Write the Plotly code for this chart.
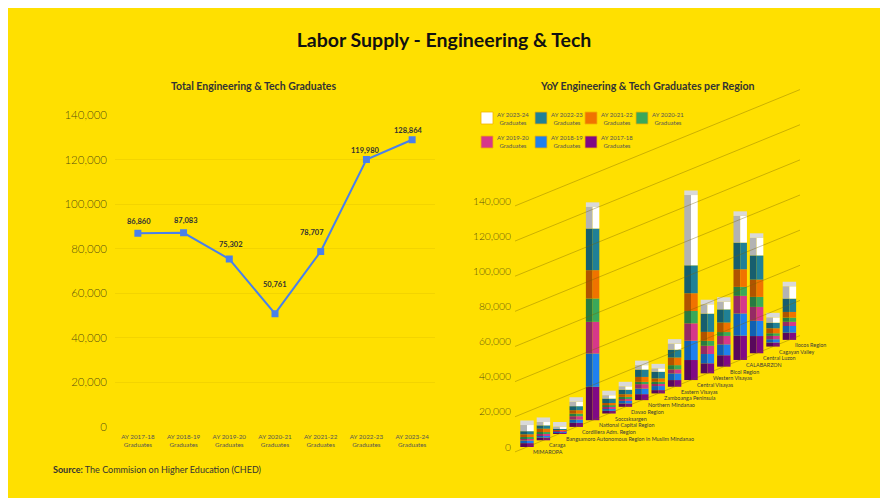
import plotly.graph_objects as go

# ---------------- data ----------------
years = ["AY 2017-18", "AY 2018-19", "AY 2019-20", "AY 2020-21",
         "AY 2021-22", "AY 2022-23", "AY 2023-24"]
total_graduates = [86860, 87083, 75302, 50761, 78707, 119980, 128864]

regions = ["MIMAROPA", "Caraga", "Bangsamoro Autonomous Region in Muslim Mindanao",
           "Cordillera Adm. Region", "National Capital Region", "Soccsksargen",
           "Davao Region", "Northern Mindanao", "Zamboanga Peninsula", "Eastern Visayas",
           "Central Visayas", "Western Visayas", "Bicol Region", "CALABARZON",
           "Central Luzon", "Cagayan Valley", "Ilocos Region"]

ay_2017_18 = [2200, 1500, 500, 2300, 19000, 1500, 1900, 3400, 1900, 3800, 11400, 5700, 6500, 13800, 9800, 2300, 4100]
ay_2018_19 = [1500, 1300, 600, 1900, 19000, 1300, 1500, 3200, 2300, 3800, 11000, 5300, 6200, 12700, 8700, 1900, 3800]
ay_2019_20 = [1200, 950, 500, 1900, 18000, 950, 1300, 2500, 1500, 2300, 9900, 4700, 4800, 10000, 7900, 1900, 2400]
ay_2020_21 = [800, 950, 300, 1500, 13300, 950, 950, 1300, 950, 2400, 7000, 2800, 2200, 5100, 5700, 1500, 2400]
ay_2021_22 = [1500, 1900, 500, 1900, 16100, 1300, 1500, 2800, 1900, 4300, 10100, 5100, 5400, 10000, 9800, 2800, 3200]
ay_2022_23 = [1800, 1900, 600, 2300, 23700, 2500, 2600, 4200, 3800, 4500, 15900, 10400, 7500, 15200, 13800, 3200, 7600]
ay_2023_24 = [3500, 1900, 1000, 2500, 12300, 1900, 1900, 2500, 1900, 3400, 40000, 5300, 4300, 15200, 10000, 3000, 7000]

tick_values = [0, 20000, 40000, 60000, 80000, 100000, 120000, 140000]

# ---------------- style ----------------
W, H = 888, 504
OFF = 8                 # page body margin
FONT = "Lato"
YELLOW = "#FFE000"
def fx(p):
    return (p - OFF) / W
def fy(p):
    return 1 - (p - OFF) / H

series = [  # (label, values, front colour, side colour)
    ("AY 2017-18<br>Graduates", ay_2017_18, "#800a85", "#58085b"),
    ("AY 2018-19<br>Graduates", ay_2018_19, "#1f80ee", "#1160b2"),
    ("AY 2019-20<br>Graduates", ay_2019_20, "#d6388a", "#952a64"),
    ("AY 2020-21<br>Graduates", ay_2020_21, "#3aa85a", "#287a42"),
    ("AY 2021-22<br>Graduates", ay_2021_22, "#f07300", "#b05400"),
    ("AY 2022-23<br>Graduates", ay_2022_23, "#208096", "#175e6e"),
    ("AY 2023-24<br>Graduates", ay_2023_24, "#ffffff", "#b3b3b3"),
]
# legend swatch centres (page px) for each series, bottom segment first
legend_pos = [(591, 142), (541, 142), (487, 142),
              (642, 118), (591, 118), (541, 118), (487, 118)]
swatch = 12

depth_rise = 3810      # oblique projection: rise of the floor per region (y units)
face_w = 0.41          # width of one bar face (x units)
cap_h = 2600           # visual height of the top face

label_dy = [12, 12, 15, 29, 19, 9, 9]
label_dx = [1, 2, 2, 0, -9, -1, -4]

fig = go.Figure()

# ---------------- left: line chart ----------------
fig.add_trace(go.Scatter(
    x=years, y=total_graduates, mode="lines+markers",
    line=dict(color="#4a80ea", width=2),
    marker=dict(symbol="square", size=7, color="#4a80ea"),
    xaxis="x", yaxis="y", showlegend=False, hoverinfo="x+y"))

for i, (yr, v) in enumerate(zip(years, total_graduates)):
    fig.add_annotation(x=yr, y=v, xref="x", yref="y", text=f"<b>{v:,}</b>",
                       showarrow=False, yshift=label_dy[i], xshift=label_dx[i],
                       font=dict(family=FONT, size=7.5, color="#333333"))

# ---------------- right: oblique 3D-like stacked bars ----------------
n = len(regions)
idx = list(range(n))
floor = [depth_rise * i for i in idx]

# slanted back-wall grid lines
x_left, x_right = -0.732, 16.646
for v in tick_values:
    fig.add_trace(go.Scatter(
        x=[x_left, x_right], y=[v + depth_rise * x_left, v + depth_rise * x_right],
        mode="lines", line=dict(color="rgba(120,100,0,0.38)", width=1),
        xaxis="x2", yaxis="y2", showlegend=False, hoverinfo="skip"))

cum = floor[:]
for k, (name, vals, front, side) in enumerate(series):
    base = cum[:]
    fig.add_trace(go.Bar(
        x=idx, y=vals, base=base, offset=-face_w, width=face_w,
        marker=dict(color=side, line=dict(width=0)),
        xaxis="x2", yaxis="y2", showlegend=False, hoverinfo="skip"))
    fig.add_trace(go.Bar(
        x=idx, y=vals, base=base, offset=0, width=face_w, name=name.replace("<br>", " "),
        marker=dict(color=front, line=dict(width=0)),
        xaxis="x2", yaxis="y2", showlegend=False,
        customdata=regions, hovertemplate="%{customdata}: %{y:,}<extra>%{fullData.name}</extra>"))
    cum = [c + v for c, v in zip(cum, vals)]
    # legend entry
    px, py = legend_pos[k]
    fig.add_shape(type="rect", xref="paper", yref="paper",
                  x0=fx(px - swatch / 2), x1=fx(px + swatch / 2),
                  y0=fy(py + swatch / 2), y1=fy(py - swatch / 2),
                  fillcolor=front, line=dict(color="#f2b400", width=0.8))
    fig.add_annotation(x=fx(px + swatch / 2 + 2), y=fy(py), xref="paper", yref="paper",
                       xanchor="left", yanchor="middle", align="center", text=name,
                       showarrow=False, font=dict(family=FONT, size=6, color="#555555"))

# top faces
fig.add_trace(go.Bar(
    x=idx, y=[cap_h] * n, base=cum, offset=-face_w, width=2 * face_w,
    marker=dict(color="#d9d9d9", line=dict(width=0)),
    xaxis="x2", yaxis="y2", showlegend=False, hoverinfo="skip"))

for i, r in enumerate(regions):
    fig.add_annotation(x=i, y=floor[i], xref="x2", yref="y2", text=r,
                       showarrow=False, xanchor="left", yanchor="middle",
                       xshift=4, yshift=-5,
                       font=dict(family=FONT, size=5.4, color="#3a3a3a"))

# ---------------- texts ----------------
fig.add_annotation(x=fx(253), y=fy(78), xref="paper", yref="paper", xanchor="center",
                   text="<b>Total Engineering & Tech Graduates</b>", showarrow=False,
                   font=dict(family=FONT, size=10.5, color="#333333"))
fig.add_annotation(x=fx(647), y=fy(78), xref="paper", yref="paper", xanchor="center",
                   text="<b>YoY Engineering & Tech Graduates per Region</b>", showarrow=False,
                   font=dict(family=FONT, size=10.6, color="#333333"))
fig.add_annotation(x=fx(51), y=fy(477), xref="paper", yref="paper", xanchor="left",
                   text="<b>Source:</b> The Commision on Higher Education (CHED)",
                   showarrow=False, font=dict(family=FONT, size=9, color="#333333"))

fig.add_shape(type="rect", xref="paper", yref="paper", layer="below",
              x0=fx(7), x1=fx(882), y0=fy(498), y1=fy(7),
              fillcolor=YELLOW, line=dict(width=0))

tick_color = "rgba(40,38,20,0.8)"

fig.update_layout(
    width=W, height=H,
    margin=dict(l=0, r=0, t=0, b=0, autoexpand=False),
    paper_bgcolor="white", plot_bgcolor="rgba(0,0,0,0)",
    font=dict(family=FONT, color="#333333"),
    barmode="overlay", showlegend=False,
    title=dict(text="<b>Labor Supply - Engineering & Tech</b>", x=fx(444), xanchor="center",
               y=fy(40), yanchor="middle", font=dict(family=FONT, size=19.5, color="#111111")),
    xaxis=dict(domain=[fx(115), fx(435)], range=[-0.5, 6.5], type="category",
               tickvals=years, ticktext=[y + "<br>Graduates" for y in years],
               tickfont=dict(family=FONT, size=6.3, color="#555555"),
               showgrid=False, zeroline=False, showline=False, ticks="",
               ticklabelstandoff=5, anchor="y"),
    yaxis=dict(domain=[fy(426.7), fy(115)], range=[0, 140000],
               tickvals=tick_values, tickformat=",",
               tickfont=dict(family=FONT, size=11.5, color=tick_color, weight=300),
               showgrid=True, gridcolor="rgba(190,160,0,0.18)", gridwidth=1,
               zeroline=False, showline=False, ticks="", ticklabelstandoff=7, anchor="x"),
    xaxis2=dict(domain=[fx(515), fx(800)], range=[x_left, x_right],
                showticklabels=False, showgrid=False, zeroline=False, showline=False,
                ticks="", anchor="y2"),
    yaxis2=dict(domain=[fy(460), fy(60)], range=[-7400, 220260],
                tickvals=tick_values, tickformat=",",
                tickfont=dict(family=FONT, size=10.3, color=tick_color, weight=300),
                showgrid=False, zeroline=False, showline=False, ticks="",
                ticklabelstandoff=3, anchor="x2"),
)

fig.write_html("out.html")
